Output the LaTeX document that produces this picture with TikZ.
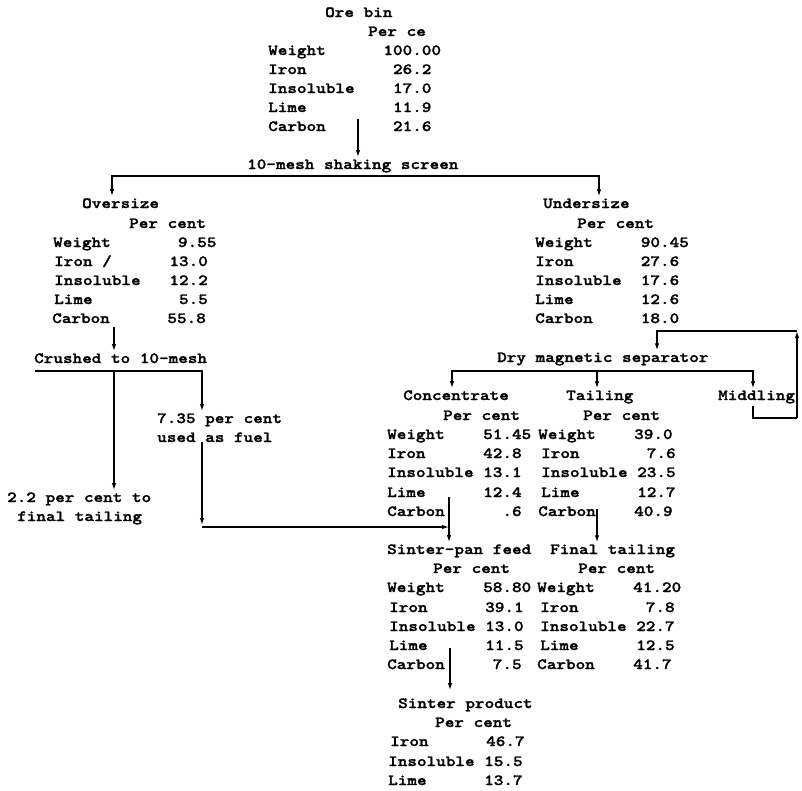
\documentclass[tikz,border=0pt]{standalone}
\usepackage{fontspec}
\usetikzlibrary{arrows.meta}
\newfontfamily\tw{lmmonolt10-bold}[Extension=.otf,FakeStretch=1.18,FakeBold=1.6]
\tikzset{
  ah/.tip={Latex[length=7pt,width=4.5pt]},
  tw/.style={font=\tw\fontsize{15.5}{19}\selectfont, inner sep=0pt, anchor=base west},
  ln/.style={line width=1.3pt},
  arr/.style={ln,-ah,shorten >=2pt},
  arrtwo/.style={ln,ah-ah,shorten <=2pt,shorten >=2pt},
}
\newcommand\T[4]{\node[tw] (#1) at (#2,#3) {#4};}
\begin{document}
\begin{tikzpicture}[x=1pt,y=-1pt]
\useasboundingbox (0,0) rectangle (802,790);
% Ore bin
\T{ore}{325}{17}{Ore bin}
\T{orepc}{368}{36}{Per ce}
\T{o1}{268}{55}{Weight~~~~~~100.00}
\T{o2}{268}{74}{Iron~~~~~~~~~26.2}
\T{o3}{268}{93}{Insoluble~~~~17.0}
\T{o4}{268}{112}{Lime~~~~~~~~~11.9}
\T{o5}{268}{131}{Carbon~~~~~~~21.6}
\T{scr}{247}{169}{10-mesh shaking screen}
\coordinate (ob) at (358,119);
\draw[arr] (ob) -- (ob |- scr.north);
% screen bus
\coordinate (bl) at (112,176);
\coordinate (br) at (599,176);
% Oversize
\T{over}{82}{208}{Oversize}
\T{overpc}{129}{228}{Per cent}
\T{v1}{53}{247}{Weight~~~~~~~9.55}
\T{v2}{54}{266}{Iron~/~~~~~~13.0}
\T{v3}{54}{285}{Insoluble~~~12.2}
\T{v4}{54}{304}{Lime~~~~~~~~~5.5}
\T{v5}{52}{323}{Carbon~~~~~~55.8}
% Undersize
\T{under}{543}{208}{Undersize}
\T{underpc}{577}{228}{Per cent}
\T{u1}{535}{247}{Weight~~~~~90.45}
\T{u2}{535}{266}{Iron~~~~~~~27.6}
\T{u3}{535}{285}{Insoluble~~17.6}
\T{u4}{535}{304}{Lime~~~~~~~12.6}
\T{u5}{535}{323}{Carbon~~~~~18.0}
\draw[arrtwo] (bl |- over.north) -- (bl) -- (br) -- (br |- under.north);
% Crushed
\T{cr}{34}{363}{Crushed to 10-mesh}
\coordinate (vb) at (114,327);
\draw[arr] (vb) -- (vb |- cr.north);
\coordinate (cl) at (35,371);
\coordinate (cm) at (114,371);
\coordinate (crr) at (202,371);
\T{fuel1}{157}{423}{7.35 per cent}
\T{fuel2}{157}{442}{used as fuel}
\T{fin1}{7}{502}{2.2 per cent to}
\T{fin2}{17}{521}{final tailing}
\draw[arr] (cl) -- (crr) -- (crr |- fuel1.north);
\draw[arr] (cm) -- (cm |- fin1.north);
% Dry magnetic separator
\T{dry}{497}{362}{Dry magnetic separator}
\T{conc}{403}{400}{Concentrate}
\T{tail}{566}{400}{Tailing}
\T{mid}{718}{400}{Middling}
\coordinate (lt) at (657,331);
\coordinate (lr) at (797,331);
\coordinate (lb) at (797,418);
\coordinate (mb) at (753,418);
\draw[ln] (753,406) -- (mb) -- (lb);
\draw[ln,-ah] (lb) -- (lr);
\draw[arr] (lr) -- (lt) -- (lt |- dry.north);
\coordinate (dl) at (452,371);
\coordinate (dm) at (597,371);
\coordinate (dr) at (753,371);
\draw[arrtwo] (dl |- conc.north) -- (dl) -- (dr) -- (dr |- mid.north);
\draw[arr] (dm) -- (dm |- tail.north);
% Concentrate
\T{concpc}{443}{420}{Per cent}
\T{c1}{387}{439}{Weight~~~~51.45}
\T{c2}{387}{458}{Iron~~~~~~42.8}
\T{c3}{387}{477}{Insoluble~13.1}
\T{c4}{387}{497}{Lime~~~~~~12.4}
\T{c5}{387}{516}{Carbon~~~~~~.6}
% Tailing
\T{tailpc}{583}{420}{Per cent}
\T{t1}{538}{439}{Weight~~~~39.0}
\T{t2}{541}{458}{Iron~~~~~~~7.6}
\T{t3}{541}{477}{Insoluble~23.5}
\T{t4}{541}{497}{Lime~~~~~~12.7}
\T{t5}{538}{516}{Carbon~~~~40.9}
% Sinter-pan feed
\T{spf}{387}{554}{Sinter-pan feed}
\T{spfpc}{433}{573}{Per cent}
\T{s1}{387}{592}{Weight~~~~58.80}
\T{s2}{389}{612}{Iron~~~~~~39.1}
\T{s3}{389}{631}{Insoluble~13.0}
\T{s4}{389}{650}{Lime~~~~~~11.5}
\T{s5}{387}{669}{Carbon~~~~~7.5}
% fuel to sinter feed
\coordinate (fc) at (202,527);
\coordinate (cv) at (449,497);
\draw[arr] (crr |- fuel2.south) -- (fc);
\draw[ln,-ah] (fc) -- (fc -| cv);
\draw[arr] (cv) -- (cv |- spf.north);
% Final tailing
\T{ft}{550}{554}{Final tailing}
\T{ftpc}{578}{573}{Per cent}
\T{f1}{537}{592}{Weight~~~~41.20}
\T{f2}{540}{612}{Iron~~~~~~~7.8}
\T{f3}{540}{631}{Insoluble~22.7}
\T{f4}{540}{650}{Lime~~~~~~12.5}
\T{f5}{537}{669}{Carbon~~~~41.7}
\coordinate (tv) at (597,509);
\draw[arr] (tv) -- (tv |- ft.north);
% Sinter product
\T{sp}{398}{708}{Sinter product}
\T{sppc}{435}{727}{Per cent}
\T{p1}{390}{746}{Iron~~~~~~46.7}
\T{p2}{388}{766}{Insoluble~15.5}
\T{p3}{388}{785}{Lime~~~~~~13.7}
\coordinate (sv) at (450,648);
\draw[arr,shorten >=8pt] (sv) -- (sv |- sp.north);
\end{tikzpicture}
\end{document}
